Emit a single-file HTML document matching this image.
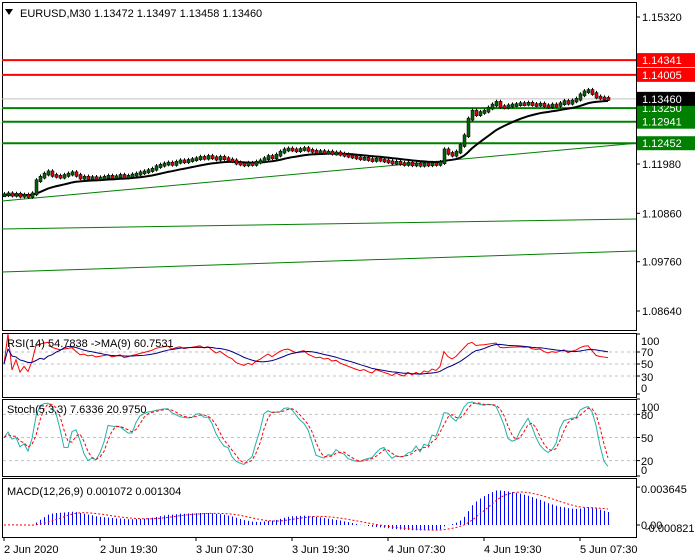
<!DOCTYPE html>
<html><head><meta charset="utf-8">
<style>
html,body{margin:0;padding:0;background:#fff;}
svg{display:block;font-family:"Liberation Sans",sans-serif;}
</style></head>
<body>
<svg id="c" width="700" height="560" xmlns="http://www.w3.org/2000/svg">
<rect x="0" y="0" width="700" height="560" fill="#fff"/>
</svg>
<script>
// ---- data ----
const closes = [
1.1128,1.1130,1.1127,1.1129,1.1125,1.1127,1.1124,1.1130,
1.1160,1.1168,1.1175,1.1180,1.1172,1.1170,1.1168,1.1172,
1.1175,1.1178,1.1172,1.1166,1.1168,1.1165,1.1167,1.1164,
1.1166,1.1168,1.1170,1.1167,1.1169,1.1172,1.1168,1.1170,
1.1173,1.1175,1.1178,1.1180,1.1183,1.1186,1.1192,1.1195,
1.1198,1.1200,1.1197,1.1202,1.1205,1.1203,1.1206,1.1208,
1.1210,1.1213,1.1211,1.1215,1.1212,1.1209,1.1213,1.1210,
1.1207,1.1205,1.1200,1.1198,1.1196,1.1199,1.1197,1.1202,
1.1205,1.1210,1.1215,1.1212,1.1218,1.1225,1.1230,1.1232,
1.1230,1.1228,1.1231,1.1233,1.1229,1.1227,1.1225,1.1226,
1.1224,1.1225,1.1222,1.1223,1.1220,1.1218,1.1216,1.1214,
1.1212,1.1210,1.1211,1.1208,1.1206,1.1209,1.1207,1.1205,
1.1203,1.1200,1.1202,1.1199,1.1197,1.1200,1.1196,1.1198,
1.1195,1.1198,1.1196,1.1199,1.1197,1.1201,1.1230,1.1222,
1.1218,1.1225,1.1240,1.1262,1.1300,1.1318,1.1310,1.1315,
1.1318,1.1325,1.1332,1.1338,1.1328,1.1327,1.1330,1.1332,
1.1333,1.1335,1.1334,1.1336,1.1333,1.1332,1.1334,1.1330,
1.1328,1.1332,1.1331,1.1335,1.1340,1.1336,1.1341,1.1345,
1.1355,1.1362,1.1365,1.1358,1.1350,1.1348,1.1347,1.1346];
const priceTicks = [1.15320,1.11980,1.10860,1.09760,1.08640];
const resistLevels = [1.14341,1.14005];
const supportLevels = [1.13250,1.12941,1.12452];
const currentPrice = 1.13460;
const dateLabels = ["2 Jun 2020","2 Jun 19:30","3 Jun 07:30","3 Jun 19:30","4 Jun 07:30","4 Jun 19:30","5 Jun 07:30"];
const dateBarIdx = [0,24,48,72,96,120,144];
const trendStart = [1.11139,1.10503,1.09526];
const trendEnd = [1.12452,1.10730,1.10003];
const rsiTicks=[100,70,50,30,0], stochTicks=[100,80,50,20,0];

// ---- scales ----
const NS="http://www.w3.org/2000/svg";
const svg=document.getElementById('c');
const R=636;
const bx=i=>4+i*4;
const py=p=>17+(1.15320-p)*4401;
const ry=v=>394-0.6*v;
const sy=v=>476-0.77*v;
const my=v=>525-10400*v;
function el(tag,attrs,parent){const e=document.createElementNS(NS,tag);for(const k in attrs)e.setAttribute(k,attrs[k]);(parent||svg).appendChild(e);return e;}
function txt(x,y,s,attrs){const t=el('text',Object.assign({x:x,y:y,'font-size':11,fill:'#000'},attrs||{}));t.textContent=s;return t;}

// panels
const panels=[[2,2,330],[2,333,397],[2,399,476],[2,478,537]];
const pn=['price-panel','rsi-panel','stochastic-panel','macd-panel'];
panels.forEach((p,k)=>{const r=el('rect',{x:p[0]+0.5,y:p[1]+0.5,width:R-p[0],height:p[2]-p[1],fill:'none',stroke:'#000'});

});

// main price axis
priceTicks.forEach(p=>{const y=py(p);el('line',{x1:R,x2:R+4,y1:y,y2:y,stroke:'#000'});
const t=txt(642,y+4,p.toFixed(5));

});

// trendlines
trendStart.forEach((s,k)=>{const l=el('line',{x1:2,y1:py(s),x2:R,y2:py(trendEnd[k]),stroke:'#008000','stroke-width':1});

});

// current price line
el('line',{x1:2,x2:R,y1:py(currentPrice),y2:py(currentPrice),stroke:'#c0c0c0'});
resistLevels.forEach(p=>{const y=py(p);const l=el('line',{x1:2,x2:R,y1:y,y2:y,stroke:'#ff0000','stroke-width':2});

});
supportLevels.forEach(p=>{const y=py(p);const l=el('line',{x1:2,x2:R,y1:y,y2:y,stroke:'#008000','stroke-width':2});

});

// moving average
let ema=[],a=2/21;closes.forEach((c,i)=>ema.push(i?ema[i-1]+a*(c-ema[i-1]):c));
const maL=el('polyline',{points:ema.map((v,i)=>bx(i)+','+py(v)).join(' '),fill:'none',stroke:'#000','stroke-width':2});



// candles
closes.forEach((c,i)=>{const o=i?closes[i-1]:c;const x=bx(i);const hi=Math.max(o,c)+0.0006,lo=Math.min(o,c)-0.0005;
const g=el('g',{});


el('line',{x1:x+0.5,x2:x+0.5,y1:py(hi),y2:py(lo),stroke:'#000'},g);
const t=Math.min(py(o),py(c))-1,h=Math.max(3,Math.abs(py(o)-py(c))+2);
el('rect',{x:x-1,y:t,width:3,height:h,fill:c>=o?'#006400':'#e00000',stroke:'#000','stroke-width':0.5},g);});

// level labels
function lbl(p,bg,col,name){const y=py(p);el('rect',{x:R+1,y:y-7,width:58,height:14,fill:bg});
const t=txt(642,y+4,p.toFixed(5),{fill:col});

}
resistLevels.forEach(p=>lbl(p,'#ff0000','#fff','resistance-label'));
supportLevels.forEach(p=>lbl(p,'#008000','#fff','support-label'));
lbl(currentPrice,'#000','#fff','current-price-label');

// title
el('path',{d:'M5 9 L13 9 L9 15 Z',fill:'#000'});
const tt=txt(20,17,'EURUSD,M30  1.13472 1.13497 1.13458 1.13460');



// RSI
let rsi=[],ag=0,al=0;
closes.forEach((c,i)=>{if(!i){rsi.push(50);return;}const d=c-closes[i-1];const n=Math.min(i,14);
ag=(ag*(n-1)+Math.max(d,0))/n;al=(al*(n-1)+Math.max(-d,0))/n;rsi.push(al+ag===0?50:100*ag/(ag+al));});
const rsiMa=rsi.map((v,i)=>{const s=rsi.slice(Math.max(0,i-8),i+1);return s.reduce((x,y)=>x+y,0)/s.length;});
[70,50,30].forEach(v=>el('line',{x1:3,x2:R,y1:ry(v),y2:ry(v),stroke:'#c0c0c0','stroke-dasharray':'3,3'}));
const rl=el('polyline',{points:rsi.map((v,i)=>bx(i)+','+ry(v)).join(' '),fill:'none',stroke:'#ff0000'});


const rml=el('polyline',{points:rsiMa.map((v,i)=>bx(i)+','+ry(v)).join(' '),fill:'none',stroke:'#000080'});


const rsiY=[341,352,364,377,388];
rsiTicks.forEach((v,k)=>{txt(641,rsiY[k]+4,String(v));el('line',{x1:R,x2:R+4,y1:ry(v),y2:ry(v),stroke:'#000'});});
const rt=txt(7,347,'RSI(14) 54.7838  ->MA(9) 60.7531');



// Stochastic
const hiA=closes.map((c,i)=>Math.max(c,i?closes[i-1]:c)+0.0003),loA=closes.map((c,i)=>Math.min(c,i?closes[i-1]:c)-0.0003);
const raw=closes.map((c,i)=>{let h=-1e9,l=1e9;for(let j=Math.max(0,i-4);j<=i;j++){h=Math.max(h,hiA[j]);l=Math.min(l,loA[j]);}return [c-l,h-l];});
const K=raw.map((r,i)=>{let n=0,d=0;for(let j=Math.max(0,i-2);j<=i;j++){n+=raw[j][0];d+=raw[j][1];}return d?100*n/d:50;});
const D=K.map((v,i)=>{const s=K.slice(Math.max(0,i-2),i+1);return s.reduce((x,y)=>x+y,0)/s.length;});
[80,50,20].forEach(v=>el('line',{x1:3,x2:R,y1:sy(v),y2:sy(v),stroke:'#c0c0c0','stroke-dasharray':'3,3'}));
const kl=el('polyline',{points:K.map((v,i)=>bx(i)+','+sy(v)).join(' '),fill:'none',stroke:'#20b2aa'});


const dl=el('polyline',{points:D.map((v,i)=>bx(i)+','+sy(v)).join(' '),fill:'none',stroke:'#ff0000','stroke-dasharray':'3,2'});


const stY=[407,415,438,461,470];
stochTicks.forEach((v,k)=>{txt(641,stY[k]+4,String(v));el('line',{x1:R,x2:R+4,y1:sy(v),y2:sy(v),stroke:'#000'});});
const st=txt(7,413,'Stoch(5,3,3) 7.6336 20.9750');



// MACD
let e12=[],e26=[];closes.forEach((c,i)=>{e12.push(i?e12[i-1]+(2/13)*(c-e12[i-1]):c);e26.push(i?e26[i-1]+(2/27)*(c-e26[i-1]):c);});
const macd=e12.map((v,i)=>v-e26[i]);
const sig=macd.map((v,i)=>{const s=macd.slice(Math.max(0,i-8),i+1);return s.reduce((x,y)=>x+y,0)/s.length;});
macd.forEach((v,i)=>{const b=el('line',{x1:bx(i)+0.5,x2:bx(i)+0.5,y1:my(0),y2:my(v),stroke:'#0000ff'});

});
const sl=el('polyline',{points:sig.map((v,i)=>bx(i)+','+my(v)).join(' '),fill:'none',stroke:'#ff0000','stroke-dasharray':'2,2'});


txt(641,493,'0.003645');txt(641,529,'0.00');txt(645,532,'-0.000821');
el('line',{x1:R,x2:R+4,y1:my(0.003645),y2:my(0.003645),stroke:'#000'});
el('line',{x1:R,x2:R+4,y1:my(0),y2:my(0),stroke:'#000'});
const mt=txt(7,495,'MACD(12,26,9) 0.001072 0.001304');



// date axis
dateLabels.forEach((s,k)=>{const x=bx(dateBarIdx[k]);el('line',{x1:x,x2:x,y1:537,y2:541,stroke:'#000'});
const t=txt(x,553,s);

});
</script>
</body></html>
